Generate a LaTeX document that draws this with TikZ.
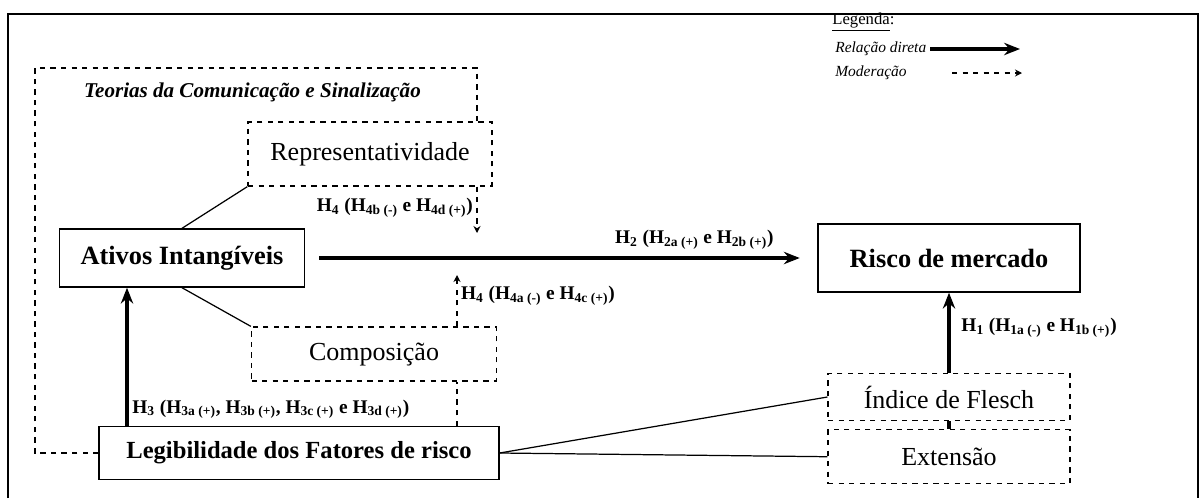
\documentclass[tikz,border=0pt]{standalone}
\usepackage{fontspec}
\setmainfont{Liberation Serif}
\usetikzlibrary{positioning,arrows.meta,calc}
\newcommand{\Hs}[1]{\textsubscript{#1}}

\begin{document}
\begin{tikzpicture}[
    x=0.02cm, y=-0.02cm,
    block/.style={
        draw,
        line width=0.8pt,
        fill=white,
        inner sep=0pt,
        align=center
    },
    main/.style={block, font=\bfseries\fontsize{15}{18}\selectfont},
    varb/.style={block, dashed, line width=0.7pt, font=\fontsize{14.8}{17}\selectfont},
    arrow/.style={-{Stealth[length=9pt,width=7pt]}, line width=2.2pt},
    modarrow/.style={-{Stealth[length=4pt,width=4pt]}, dashed, line width=0.7pt},
    link/.style={line width=0.7pt},
    hyp/.style={font=\bfseries\fontsize{11}{12}\selectfont, inner sep=2pt},
    leg/.style={font=\itshape\fontsize{8.8}{10}\selectfont, inner sep=0pt}
]
\useasboundingbox (0,0) rectangle (1204,498);

% moldura da figura
\draw[line width=1.6pt] (8,498) -- (8,14) -- (1198,14) -- (1198,498);

% ============================================================
% CONSTRUTOS
% ============================================================
\node[main, minimum width=4.9cm, minimum height=1.16cm] (ativos) at (182,258) {Ativos Intangíveis};
\node[main, minimum width=5.24cm, minimum height=1.36cm] (risco) at (949,258) {Risco de mercado};
\node[main, font=\bfseries\fontsize{14}{17}\selectfont,
      minimum width=8cm, minimum height=1.06cm] (legib) at (299,453) {Legibilidade dos Fatores de risco};

\node[varb, minimum width=4.88cm, minimum height=1.28cm] (repres) at (370,154) {Representatividade};
\node[varb, minimum width=4.9cm, minimum height=1.08cm] (compos) at (374,354) {Composição};
\node[varb, minimum width=4.84cm, minimum height=0.94cm] (indice) at (949,397) {Índice de Flesch};
\node[varb, minimum width=4.84cm, minimum height=1.08cm, below=0.16cm of indice] (ext) {Extensão};

% ligações sem seta
\draw[link] (ativos.north) -- (repres.south west);
\draw[link] (ativos.south) -- (compos.north west);
\draw[link] (legib.east) -- (indice.west);
\draw[link] (legib.east) -- (ext.west);
\draw[line width=2.2pt] (ext.north) -- (indice.south);

% ============================================================
% HIPÓTESES
% ============================================================
\coordinate (h3) at (127,0);
\coordinate (m1) at (477,233);
\coordinate (m2) at (457,275);

\draw[arrow, shorten <=8pt, shorten >=10pt] (ativos) -- node[hyp, pos=0.76, above=2pt]
    {H\Hs{2} (H\Hs{2a (+)} e H\Hs{2b (+)})} (risco);
\draw[arrow] (h3 |- legib.north) -- node[hyp, pos=0.12, right, anchor=west]
    {H\Hs{3} (H\Hs{3a (+)}, H\Hs{3b (+)}, H\Hs{3c (+)} e H\Hs{3d (+)})} (h3 |- ativos.south);
\draw[arrow] (indice.north) -- node[hyp, pos=0.56, right=4pt]
    {H\Hs{1} (H\Hs{1a (-)} e H\Hs{1b (+)})} (risco.south);

% moderação
\draw[modarrow] (m1 |- repres.south) -- node[hyp, pos=0.45, left]
    {H\Hs{4} (H\Hs{4b (-)} e H\Hs{4d (+)})} (m1);
\draw[dashed, line width=0.7pt] (m2 |- legib.north) -- (m2 |- compos.south);
\draw[modarrow] (m2 |- compos.north) -- node[hyp, pos=0.6, right]
    {H\Hs{4} (H\Hs{4a (-)} e H\Hs{4c (+)})} (m2);

% ============================================================
% TEORIAS (moldura tracejada)
% ============================================================
\coordinate (tl) at (35,68);
\draw[dashed, line width=0.7pt] (legib.west) -| (tl) -| (m1 |- repres.north);
\node[font=\bfseries\itshape\fontsize{12}{14}\selectfont, anchor=west] (teorias) at (78,92)
    {Teorias da Comunicação e Sinalização};

% ============================================================
% LEGENDA
% ============================================================
\node[font=\fontsize{9.5}{10}\selectfont, inner sep=0pt, anchor=west] (legenda) at (832,22) {\underline{Legenda}:};
\node[leg, anchor=west] (reldir) at (835,49) {Relação direta};
\node[leg, anchor=west] (moder) at (835,73) {Moderação};
\coordinate (rd1) at (930,49);
\coordinate (rd2) at (1020,49);
\coordinate (md1) at (952,73);
\coordinate (md2) at (1022,73);
\draw[arrow] (rd1) -- (rd2);
\draw[modarrow] (md1) -- (md2);

\end{tikzpicture}
\end{document}
